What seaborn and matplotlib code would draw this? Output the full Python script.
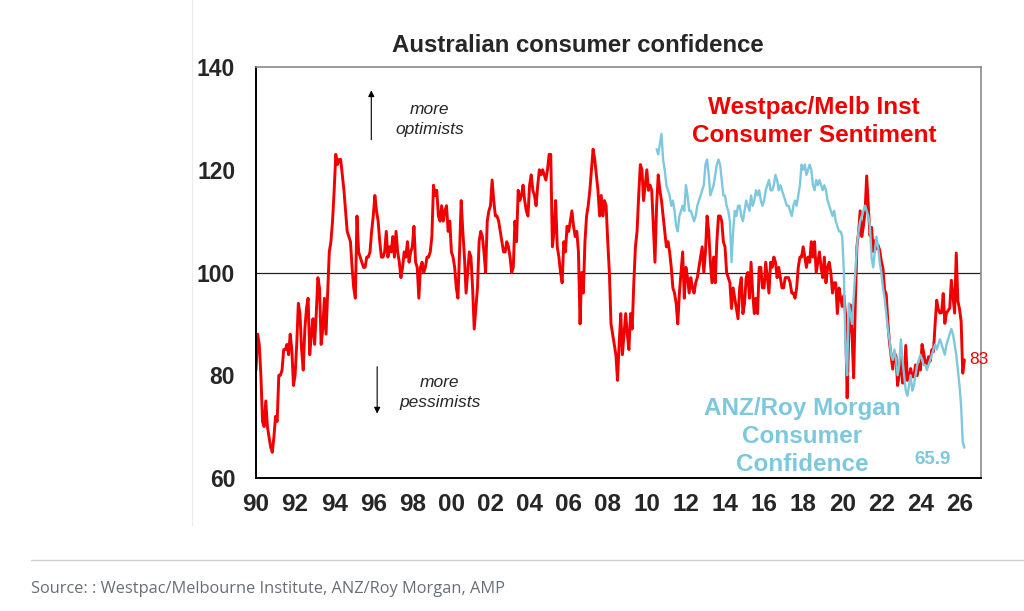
import numpy as np
import pandas as pd
import matplotlib
matplotlib.use("Agg")
import matplotlib.pyplot as plt
import seaborn as sns

# Westpac/Melbourne Institute consumer sentiment, monthly from Jan 1990
westpac = [
    81, 88, 86, 80, 71, 70, 75, 70, 68, 66, 65, 68,            # 1990
    72, 71, 80, 80, 81, 85, 85, 86, 84, 88, 85, 78,            # 1991
    80, 86, 94, 92, 85, 81, 89, 93, 95, 84, 88, 91,            # 1992
    86, 92, 99, 97, 86, 89, 95, 88, 96, 104, 106, 110,         # 1993
    116, 123, 121, 122, 122, 119, 116, 112, 108, 107, 106, 101,  # 1994
    97, 95, 111, 104, 103, 102, 101, 101, 103, 103, 104, 108,  # 1995
    111, 115, 112, 110, 106, 103, 103, 104, 108, 103, 105, 104,  # 1996
    107, 103, 108, 104, 102, 99, 101, 104, 103, 106, 102, 104,   # 1997
    105, 109, 102, 101, 95, 101, 102, 100, 101, 103, 103, 104,   # 1998
    107, 117, 115, 116, 111, 110, 113, 110, 112, 113, 108, 110,  # 1999
    104, 103, 101, 97, 95, 104, 114, 108, 103, 96, 100, 104,     # 2000
    103, 97, 89, 93, 97, 106, 108, 107, 104, 100, 110, 112,      # 2001
    113, 118, 114, 111, 111, 110, 108, 106, 104, 104, 106, 105,  # 2002
    103, 100, 101, 110, 106, 116, 114, 115, 117, 114, 112, 111,  # 2003
    117, 119, 116, 115, 113, 117, 120, 119, 120, 119, 118, 120,  # 2004
    123, 123, 105, 108, 114, 105, 103, 100, 98, 106, 104, 109,  # 2005
    108, 110, 112, 109, 107, 108, 104, 90, 100, 96, 106, 111,   # 2006
    113, 116, 120, 124, 122, 119, 116, 111, 115, 111, 114, 113,  # 2007
    106, 100, 90, 88, 86, 84, 79, 86, 92, 84, 88, 92,            # 2008
    88, 85, 92, 89, 98, 105, 108, 115, 121, 120, 114, 117,       # 2009
    120, 116, 117, 116, 109, 102, 113, 119, 116, 114, 111, 108,  # 2010
    105, 106, 104, 101, 97, 96, 94, 90, 96, 100, 104, 95,        # 2011
    101, 99, 96, 99, 97, 96, 98, 99, 101, 103, 105, 100,         # 2012
    104, 111, 108, 102, 98, 103, 98, 106, 111, 111, 110, 106,    # 2013
    105, 100, 99, 98, 93, 97, 95, 93, 91, 97, 99, 92,            # 2014
    94, 99, 100, 95, 102, 96, 92, 95, 92, 101, 101, 97,          # 2015
    97, 102, 99, 96, 102, 101, 103, 102, 99, 101, 99, 97,        # 2016
    97, 99, 99, 99, 98, 96, 96, 95, 97, 101, 103, 103,           # 2017
    105, 103, 101, 103, 102, 106, 103, 106, 100, 102, 104, 101,  # 2018
    99, 103, 98, 101, 102, 100, 96, 98, 98, 92, 97, 95,          # 2019
    93.4, 95.5, 91.9, 75.6, 88.1, 93.7, 87.9, 79.5, 93.8, 105.0, 107.7, 112.0,    # 2020
    107.0, 109.1, 111.8, 118.8, 113.1, 107.2, 108.8, 104.1, 106.2, 104.6, 105.3, 104.3,  # 2021
    102.2, 100.8, 96.6, 95.8, 90.4, 86.4, 83.8, 81.2, 84.4, 83.7, 78.0, 80.3,    # 2022
    84.3, 78.5, 78.5, 85.8, 79.0, 79.2, 81.3, 79.7, 79.7, 82.0, 79.9, 82.1,      # 2023
    81.0, 86.0, 84.4, 82.4, 82.2, 83.6, 82.7, 85.0, 84.6, 89.8, 94.6, 92.8,      # 2024
    92.1, 92.2, 95.9, 90.1, 92.1, 92.6, 93.1, 98.5, 95.4, 92.1, 103.8, 94.5,     # 2025
    92.9, 90.5, 80.4, 83.0,                                                      # 2026
]

# ANZ/Roy Morgan consumer confidence, monthly from Jul 2010
anz_rm = [
    124, 123, 125, 127, 122, 120,                                # 2010
    117, 116, 115, 113, 114, 112, 109, 108, 111, 112, 113, 112,  # 2011
    117, 115, 112, 112, 111, 110, 111, 113, 114, 115, 116, 117,  # 2012
    121, 122, 119, 115, 116, 117, 119, 121, 122, 121, 118, 115,  # 2013
    115, 113, 112, 110, 102, 108, 112, 111, 113, 113, 111, 110,  # 2014
    112, 114, 113, 112, 115, 113, 114, 116, 115, 116, 114, 113,  # 2015
    114, 116, 117, 118, 116, 116, 117, 119, 118, 116, 117, 116,  # 2016
    115, 114, 113, 113, 112, 111, 113, 114, 113, 115, 117, 121,  # 2017
    120, 121, 119, 120, 121, 120, 117, 116, 118, 117, 118, 117,  # 2018
    116, 117, 116, 114, 113, 112, 111, 112, 110, 109, 108, 108,  # 2019
    107, 100, 85, 80, 94, 92, 90, 95, 100, 105, 108, 110,        # 2020
    111, 112, 113, 112, 111, 109, 103, 101, 104, 107, 105, 102,  # 2021
    100, 97, 95, 92, 89, 87, 84, 83, 85, 83, 80, 82,             # 2022
    87, 83, 80, 77, 76, 78, 80, 77, 78, 80, 82, 83,              # 2023
    84, 83, 82, 82, 81, 82, 83, 84, 85, 86, 85, 86,              # 2024
    87, 86, 85, 84, 86, 87, 88, 89, 88, 86, 84, 81,              # 2025
    78, 74, 67, 65.9,                                            # 2026
]

year_ticks = list(range(1990, 2027, 2))
tick_labels = [f"{y % 100:02d}" for y in year_ticks]

wp = pd.DataFrame({"year": 1990 + np.arange(len(westpac)) / 12, "value": westpac})
rm = pd.DataFrame({"year": 2010.5 + np.arange(len(anz_rm)) / 12, "value": anz_rm})

sns.set_style("white")
plt.rcParams["font.family"] = ["Liberation Sans", "DejaVu Sans"]

red = "#f00000"
cyan = "#7ec8de"

fig = plt.figure(figsize=(10.24, 6.11), dpi=100)
ax = fig.add_axes([0.25, 0.2177, 0.708, 0.6726])

ax.axhline(100, color="#222222", lw=0.9, zorder=1)
sns.lineplot(data=wp, x="year", y="value", color=red, lw=2.1, ax=ax, zorder=2)
sns.lineplot(data=rm, x="year", y="value", color=cyan, lw=1.7, ax=ax, zorder=3)

ax.set_xlim(1990, 2027.1)
ax.set_ylim(60, 140)
ax.set_xticks(year_ticks)
ax.set_xticklabels(tick_labels, fontsize=17.5, fontweight="bold")
ax.set_yticks([60, 80, 100, 120, 140])
ax.set_yticklabels(["60", "80", "100", "120", "140"], fontsize=16.5, fontweight="bold")
ax.set_xlabel("")
ax.set_ylabel("")
ax.tick_params(axis="both", direction="out", length=7, width=1.2, color="black", pad=4)
ax.tick_params(axis="y", pad=8)

for side in ["left", "bottom"]:
    ax.spines[side].set_color("black")
    ax.spines[side].set_linewidth(1.4)
for side in ["top", "right"]:
    ax.spines[side].set_color("#8a8a8a")
    ax.spines[side].set_linewidth(1.2)

fig.text(578 / 1024, 1 - 45 / 611, "Australian consumer confidence", fontsize=17.3,
         fontweight="bold", ha="center", va="center")

ax.text(2018.55, 129.4, "Westpac/Melb Inst\nConsumer Sentiment", color=red, fontsize=17.5,
        fontweight="bold", ha="center", va="center", linespacing=1.33)
ax.text(2017.95, 68.1, "ANZ/Roy Morgan\nConsumer\nConfidence", color=cyan, fontsize=17.5,
        fontweight="bold", ha="center", va="center", linespacing=1.27)
ax.text(2026.5, 83, "83", color=red, fontsize=12.5, ha="left", va="center")
ax.text(2024.6, 63.6, "65.9", color=cyan, fontsize=13.5, fontweight="bold", ha="center", va="center")

ax.text(1998.9, 129.8, "more\noptimists", fontsize=12.5, style="italic", ha="center", va="center",
        linespacing=1.45)
ax.annotate("", xy=(1995.9, 136.0), xytext=(1995.9, 125.3),
            arrowprops=dict(arrowstyle="-|>", color="black", lw=0.8, mutation_scale=9))
ax.text(1999.4, 76.6, "more\npessimists", fontsize=12.5, style="italic", ha="center", va="center",
        linespacing=1.45)
ax.annotate("", xy=(1996.2, 72.0), xytext=(1996.2, 82.2),
            arrowprops=dict(arrowstyle="-|>", color="black", lw=0.8, mutation_scale=9))

# page furniture around the chart image
fig.add_artist(plt.Line2D([192 / 1024, 192 / 1024], [1 - 525 / 611, 1.0], color="#ececec", lw=1))
fig.add_artist(plt.Line2D([31 / 1024, 1.0], [1 - 560 / 611, 1 - 560 / 611], color="#cfcfcf", lw=1))
fig.text(31 / 1024, 1 - 589 / 611, "Source: : Westpac/Melbourne Institute, ANZ/Roy Morgan, AMP",
         fontsize=11.8, color="#686e75", family=["Open Sans", "DejaVu Sans"], va="center", ha="left")

fig.savefig("out.png", dpi=100)
